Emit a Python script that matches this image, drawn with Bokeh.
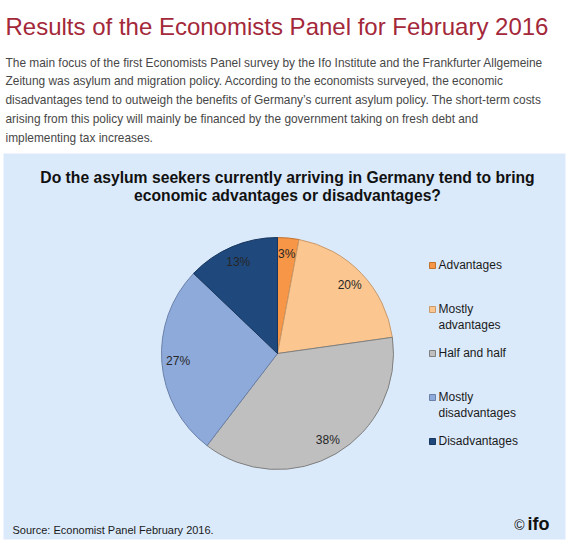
import numpy as np
from bokeh.plotting import figure
from bokeh.models import Range1d, ColumnDataSource
from bokeh.core.properties import value
from bokeh.embed import file_html
from bokeh.resources import INLINE

# ---------------- data ----------------
page_title = "Results of the Economists Panel for February 2016"
intro_lines = [
    "The main focus of the first Economists Panel survey by the Ifo Institute and the Frankfurter Allgemeine",
    "Zeitung was asylum and migration policy. According to the economists surveyed, the economic",
    "disadvantages tend to outweigh the benefits of Germany\u2019s current asylum policy. The short-term costs",
    "arising from this policy will mainly be financed by the government taking on fresh debt and",
    "implementing tax increases.",
]
chart_title_lines = [
    "Do the asylum seekers currently arriving in Germany tend to bring",
    "economic advantages or disadvantages?",
]
categories = ["Advantages", "Mostly advantages", "Half and half",
              "Mostly disadvantages", "Disadvantages"]
legend_labels = ["Advantages", "Mostly\nadvantages", "Half and half",
                 "Mostly\ndisadvantages", "Disadvantages"]
shares = [3, 20, 38, 27, 13]
colors = ["#F79646", "#FCC690", "#BFBFBF", "#8EAADB", "#1F497D"]
edge_colors = ["#C0732F", "#C89A6C", "#7F7F7F", "#6A80A8", "#17375E"]
source_note = "Source: Economist Panel February 2016."
copyright_sign = "\u00a9"
logo_text = "ifo"

# ---------------- canvas ----------------
W, H = 569, 549
FONT = value("Liberation Sans")


def Y(y):
    return H - y


p = figure(width=W, height=H, x_range=Range1d(0, W), y_range=Range1d(0, H),
           output_backend="svg", toolbar_location=None, min_border=0,
           x_axis_location=None, y_axis_location=None)
p.grid.visible = False
p.outline_line_color = None
p.background_fill_color = "white"
p.border_fill_color = "white"

# page title
p.text(x=[5], y=[Y(26)], text=[page_title], text_font=FONT,
       text_font_size="24px", text_color="#A3283A", text_baseline="middle",
       text_align="left")

# intro paragraph
p.text(x=[5] * len(intro_lines),
       y=[Y(62 + 18.8 * i) for i in range(len(intro_lines))],
       text=intro_lines, text_font=FONT, text_font_size="11.9px",
       text_color="#474747", text_baseline="middle", text_align="left")

# chart panel
p.quad(left=[3], right=[565], top=[Y(153)], bottom=[Y(539)],
       fill_color="#DBEAFB", line_color=None)

# chart title
p.text(x=[287] * 2, y=[Y(177), Y(195)], text=chart_title_lines,
       text_font=FONT, text_font_style="bold", text_font_size="15.7px",
       text_color="#111111", text_baseline="middle", text_align="center")

# pie
cx, cy, R = 277, Y(353), 116
vals = np.array(shares, dtype=float)
frac = vals / vals.sum()
cum = np.concatenate([[0.0], np.cumsum(frac)])
start = np.pi / 2 - 2 * np.pi * cum[:-1]
end = np.pi / 2 - 2 * np.pi * cum[1:]
mid = (start + end) / 2
src = ColumnDataSource(dict(
    start=start, end=end, color=colors, edge=edge_colors,
    lx=cx + 0.86 * R * np.cos(mid), ly=cy + 0.86 * R * np.sin(mid),
    label=[f"{v}%" for v in shares], cat=categories,
))
p.wedge(x=cx, y=cy, radius=R, start_angle="start", end_angle="end",
        direction="clock", fill_color="color", line_color="edge",
        line_width=1, source=src)
p.text(x="lx", y="ly", text="label", source=src, text_font=FONT,
       text_font_size="12px", text_color="#262626", text_baseline="middle",
       text_align="center")

# legend
leg_y = [265 + 44 * i for i in range(len(categories))]
p.rect(x=[432] * len(categories), y=[Y(v) for v in leg_y], width=6, height=6,
       fill_color=colors, line_color=edge_colors, line_width=1)
p.text(x=[438] * len(categories), y=[Y(v - 7.5) for v in leg_y],
       text=legend_labels, text_font=FONT, text_font_size="12px",
       text_color="#1a1a1a", text_baseline="top", text_align="left",
       text_line_height=1.17)

# source note and logo
p.text(x=[12], y=[Y(529)], text=[source_note], text_font=FONT,
       text_font_size="11px", text_color="#1a1a1a", text_baseline="middle",
       text_align="left")
p.text(x=[519], y=[Y(524)], text=[copyright_sign], text_font=FONT,
       text_font_size="14px", text_color="#111111", text_baseline="middle",
       text_align="center")
p.text(x=[527], y=[Y(523)], text=[logo_text], text_font=FONT,
       text_font_style="bold", text_font_size="18px", text_color="#111111",
       text_baseline="middle", text_align="left")

open("out.html", "w").write(file_html(p, INLINE))
